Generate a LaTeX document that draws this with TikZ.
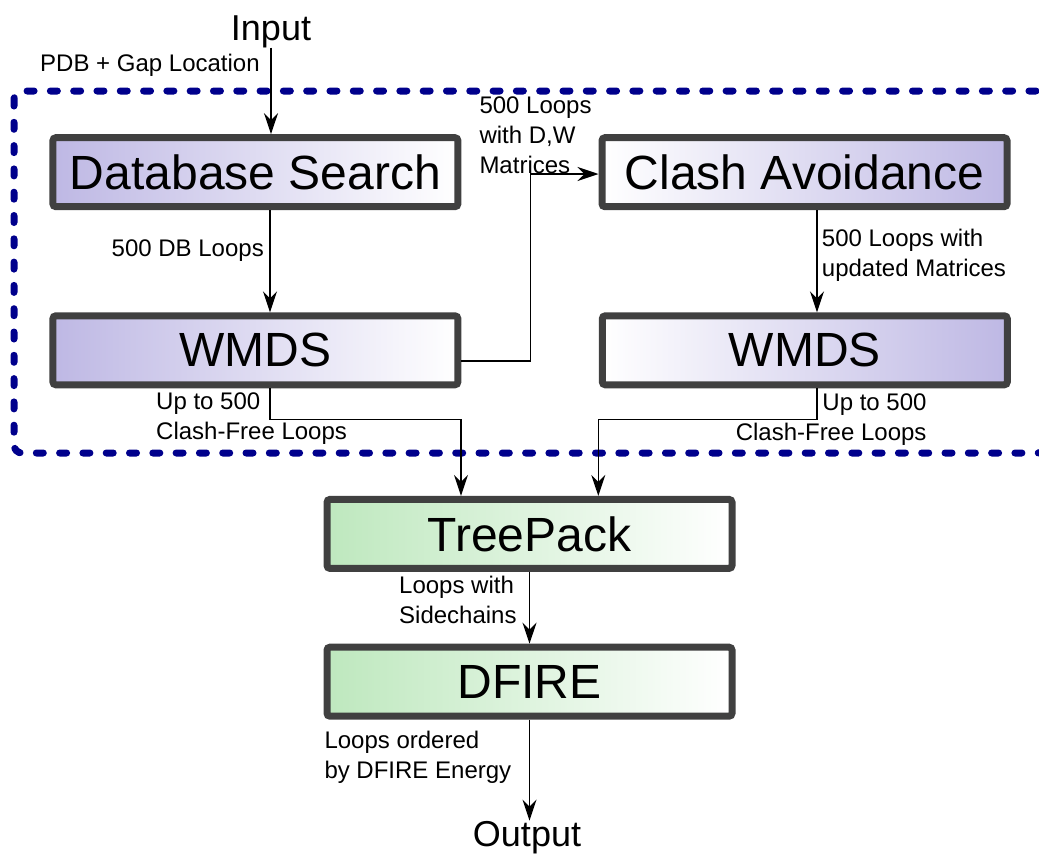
\documentclass[tikz,border=0pt]{standalone}
\usepackage{fontspec}
\setmainfont{Liberation Sans}
\usetikzlibrary{arrows.meta,calc}
\definecolor{purp}{RGB}{190,184,228}
\definecolor{grn}{RGB}{190,232,190}
\definecolor{boxgray}{RGB}{64,64,64}
\definecolor{navy}{RGB}{0,0,140}
\begin{document}
\begin{tikzpicture}[x=1pt,y=-1pt,
  box/.style={draw=boxgray, line width=7pt, rounded corners=3pt, minimum width=405pt, minimum height=69pt, inner sep=0pt, font=\fontsize{48}{58}\selectfont},
  pbox/.style={box, left color=purp, right color=white},
  pboxr/.style={box, left color=white, right color=purp},
  gbox/.style={box, left color=grn, right color=white},
  conn/.style={line width=1.3pt, -{Stealth[length=21pt,width=14pt,inset=7pt]}},
  lbl/.style={font=\fontsize{24}{30}\selectfont, inner sep=0pt, align=left},
  io/.style={font=\fontsize{36}{43}\selectfont, inner sep=0pt}]
\useasboundingbox (0,0) rectangle (1039,854);

% dashed group frame
\draw[navy, line width=7pt, dash pattern=on 7pt off 16.3pt, line cap=round, rounded corners=8pt] (14,91) rectangle (1046,453);

% nodes
\node[io, anchor=base] (input) at (271,40) {Input};
\node[io, anchor=base] (output) at (527,846) {Output};
\node[pbox] (db) at (255.4,172.2) {Database Search};
\node[pboxr] (clash) at (804.5,172.2) {Clash Avoidance};
\node[pbox] (wmds1) at (255.4,350.3) {WMDS};
\node[pboxr] (wmds2) at (804.8,350.3) {WMDS};
\node[gbox] (treepack) at (529.5,533.9) {TreePack};
\node[gbox] (dfire) at (529.5,681.7) {DFIRE};

% helper coordinates
\coordinate (x1) at (270,0);
\coordinate (x2) at (817,0);
\coordinate (x3) at (461,0);
\coordinate (x4) at (598.3,0);
\coordinate (x5) at (530.5,0);
\coordinate (ey) at (0,419.5);
\coordinate (ya) at (0,361);
\coordinate (yb) at (0,174);

% connectors
\draw[conn] (input.south) -- (input.south |- db.north);
\draw[conn] (db.south -| x1) -- (wmds1.north -| x1);
\draw[conn] (wmds1.east |- ya) -| (x5 |- yb) -- (clash.west |- yb);
\draw[conn] (clash.south -| x2) -- (wmds2.north -| x2);
\draw[conn] (wmds1.south -| x1) |- (x3 |- ey) -- (treepack.north -| x3);
\draw[conn] (wmds2.south -| x2) |- (x4 |- ey) -- (treepack.north -| x4);
\draw[conn] (treepack.south) -- (dfire.north);
\draw[conn] (dfire.south) -- (dfire.south |- output.north);

% labels (base anchor = baseline of last line)
\node[lbl, anchor=base west] (l1) at (40,71) {PDB + Gap Location};
\node[lbl, anchor=base east] (l2) at (264,256.7) {500 DB Loops};
\node[lbl, anchor=base west] (l3) at (479.3,173) {500 Loops\\with D,W\\Matrices};
\node[lbl, anchor=base west] (l4) at (821.7,276.7) {500 Loops with\\updated Matrices};
\node[lbl, anchor=base west] (l5) at (156,439.5) {Up to 500\\Clash-Free Loops};
\node[lbl, anchor=base east, align=right] (l6) at (926.7,440) {Up to 500\\Clash-Free Loops};
\node[lbl, anchor=base west] (l7) at (399,623) {Loops with\\Sidechains};
\node[lbl, anchor=base west] (l8) at (324.3,778) {Loops ordered\\by DFIRE Energy};
\end{tikzpicture}
\end{document}
